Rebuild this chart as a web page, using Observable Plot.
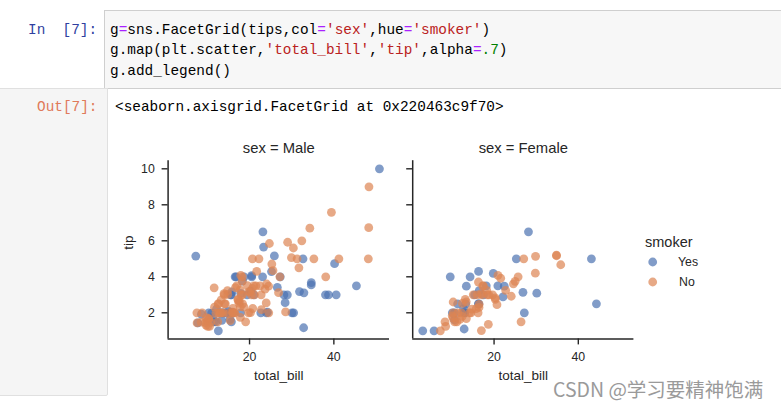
<!DOCTYPE html>
<html><head><meta charset="utf-8">
<script src="https://cdn.jsdelivr.net/npm/d3@7"></script>
<script src="https://cdn.jsdelivr.net/npm/@observablehq/plot@0.6"></script>
<style>
html,body{margin:0;padding:0;background:#fff;}
body{width:781px;height:408px;overflow:hidden;position:relative;font-family:"Liberation Sans",Arial,sans-serif;}
.abs{position:absolute;}
.mono{font-family:"Liberation Mono","DejaVu Sans Mono",monospace;font-size:14.4px;white-space:pre;line-height:20.8px;}
.op{color:#AA22FF;} .st{color:#BA2121;} .nu{color:#008000;} .tx{color:#000;}
.panel svg{overflow:visible;}
</style>
</head><body>
<div class="abs" style="left:104px;top:10px;width:700px;height:77px;background:#f7f7f7;border:1px solid #cfcfcf;"></div>
<div class="abs mono" style="left:28px;top:19.5px;color:#303F9F;">In  [7]:</div>
<div id="code" class="abs" style="left:110px;top:19.5px;"></div>
<div class="abs" style="left:-1px;top:88px;width:107px;height:306px;background:#f5f5f5;border:1px solid #e0e0e0;border-bottom-right-radius:2px;"></div>
<div class="abs mono" style="left:37px;top:97px;color:#E07A5A;">Out[7]:</div>
<div class="abs mono" style="left:115px;top:97px;color:#000;">&lt;seaborn.axisgrid.FacetGrid at 0x220463c9f70&gt;</div>
<div id="p1" class="abs panel" style="left:110px;top:130px;"></div>
<div id="p2" class="abs panel" style="left:354px;top:130px;"></div>
<div id="legend" class="abs" style="left:0;top:0;"></div>
<div class="abs" style="left:553px;top:376px;font-family:'Noto Sans CJK SC','Noto Sans',sans-serif;font-size:19.5px;line-height:25px;color:#9a9a9a;white-space:nowrap;">CSDN @学习要精神饱满</div>
<script>
// ---- data (tips dataset, as plotted) ----
const totalBill = [16.99,10.34,21.01,23.68,24.59,25.29,8.77,26.88,15.04,14.78,10.27,35.26,15.42,18.43,14.83,21.58,10.33,16.29,16.97,20.65,
17.92,20.29,15.77,39.42,19.82,17.81,13.37,12.69,21.70,19.65,9.55,18.35,15.06,20.69,17.78,24.06,16.31,16.93,18.69,31.27,
16.04,17.46,13.94,9.68,30.40,18.29,22.23,32.40,28.55,18.04,12.54,10.29,34.81,9.94,25.56,19.49,38.01,26.41,11.24,48.27,
20.29,13.81,11.02,18.29,17.59,20.08,16.45,3.07,20.23,15.01,12.02,17.07,26.86,25.28,14.73,10.51,17.92,27.20,22.76,17.29,
19.44,16.66,10.07,32.68,15.98,34.83,13.03,18.28,24.71,21.16,28.97,22.49,5.75,16.32,22.75,40.17,27.28,12.03,21.01,12.46,
11.35,15.38,44.30,22.42,20.92,15.36,20.49,25.21,18.24,14.31,14.00,7.25,38.07,23.95,25.71,17.31,29.93,10.65,12.43,24.08,
11.69,13.42,14.26,15.95,12.48,29.80,8.52,14.52,11.38,22.82,19.08,20.27,11.17,12.26,18.26,8.51,10.33,14.15,16.00,13.16,
17.47,34.30,41.19,27.05,16.43,8.35,18.64,11.87,9.78,7.51,14.07,13.13,17.26,24.55,19.77,29.85,48.17,25.00,13.39,16.49,
21.50,12.66,16.21,13.81,17.51,24.52,20.76,31.71,10.59,10.63,50.81,15.81,7.25,31.85,16.82,32.90,17.89,14.48,9.60,34.63,
34.65,23.33,45.35,23.17,40.55,20.69,20.90,30.46,18.15,23.10,15.69,19.81,28.44,15.48,16.58,7.56,10.34,43.11,13.00,13.51,
18.71,12.74,13.00,16.40,20.53,16.47,26.59,38.73,24.27,12.76,30.06,25.89,48.33,13.27,28.17,12.90,28.15,11.59,7.74,30.14,
12.16,13.42,8.58,15.98,13.42,16.27,10.09,20.45,13.28,22.12,24.01,15.69,11.61,10.77,15.53,10.07,12.60,32.83,35.83,29.03,
27.18,22.67,17.82,18.78];
const tip = [1.01,1.66,3.50,3.31,3.61,4.71,2.00,3.12,1.96,3.23,1.71,5.00,1.57,3.00,3.02,3.92,1.67,3.71,3.50,3.35,
4.08,2.75,2.23,7.58,3.18,2.34,2.00,2.00,4.30,3.00,1.45,2.50,3.00,2.45,3.27,3.60,2.00,3.07,2.31,5.00,
2.24,2.54,3.06,1.32,5.60,3.00,5.00,6.00,2.05,3.00,2.50,2.60,5.20,1.56,4.34,3.51,3.00,1.50,1.76,6.73,
3.21,2.00,1.98,3.76,2.64,3.15,2.47,1.00,2.01,2.09,1.97,3.00,3.14,5.00,2.20,1.25,3.08,4.00,3.00,2.71,
3.00,3.40,1.83,5.00,2.03,5.17,2.00,4.00,5.85,3.00,3.00,3.50,1.00,4.30,3.25,4.73,4.00,1.50,3.00,1.50,
2.50,3.00,2.50,3.48,4.08,1.64,4.06,4.29,3.76,4.00,3.00,1.00,4.00,2.55,4.00,3.50,5.07,1.50,1.80,2.92,
2.31,1.68,2.50,2.00,2.52,4.20,1.48,2.00,2.00,2.18,1.50,2.83,1.50,2.00,3.25,1.25,2.00,2.00,2.00,2.75,
3.50,6.70,5.00,5.00,2.30,1.50,1.36,1.63,1.73,2.00,2.50,2.00,2.74,2.00,2.00,5.14,5.00,3.75,2.61,2.00,
3.50,2.50,2.00,2.00,3.00,3.48,2.24,4.50,1.61,2.00,10.00,3.16,5.15,3.18,4.00,3.11,2.00,2.00,4.00,3.55,
3.68,5.65,3.50,6.50,3.00,5.00,3.50,2.00,3.50,4.00,1.50,4.19,2.56,2.02,4.00,1.44,2.00,5.00,2.00,2.00,
4.00,2.01,2.00,2.50,4.00,3.23,3.41,3.00,2.03,2.23,2.00,5.16,9.00,2.50,6.50,1.10,3.00,1.50,1.44,3.09,
2.20,3.48,1.92,3.00,1.58,2.50,2.00,3.00,2.72,2.88,2.00,3.00,3.39,1.47,3.00,1.25,1.00,1.17,4.67,5.92,
2.00,2.00,1.75,3.00];
// M = Male, F = Female
const sexCodes = ("FMMMFMMMMMFMMFMFMFMM" + "MFFMMMMMMFMMFFMMMFMM" + "MMMMMMMMMMMFFMMMMFMM" +
  "MMMMMMFFMMMFFFFMMMMM" + "MMFMMFMMMMMMFFFMMMMM" + "FFFFFMMMMFMFMMFFMFFF" +
  "MFMMFFMFFMMFFFFFFFMF" + "FMMFFFFFMMMMMMMFMFFM" + "MMFMFMMMFFMMMMMMMMFM" +
  "MMMMMMFMFMMFMMMMMFFM" + "MFFFMFMMMFMMMFFFMMMF" + "MFMFMFFMMFMMMMMMMMFM" + "FMMF").split("");
// Y = smoker Yes, N = smoker No
const smokerCodes = ("NNNNNNNNNNNNNNNNNNNN" + "NNNNNNNNNNNNNNNNNNNN" + "NNNNNNNNNNNNNNNNYNYN" +
  "YYYYNNNYNYNNYYNNYNNN" + "YNNYNNNNNNYNYYNYYYYN" + "YYYYNYYYNYNNNNNNNNNN" +
  "NNNNNNNNNNNNNNNNNNYN" + "NNNNNNNNNNNNNNNNNNNN" + "NNNNYNNNYYYYYYYYYYYY" +
  "YYYYYNYYYYYYYYYNYYYY" + "YYYYYYYYYYYYNYYYYYYY" + "YYYNYYYNNYYYNNYNYYNN" + "YYNN").split("");
const sexLevels = ["Male", "Female"];
const smokerLevels = ["Yes", "No"];
const palette = ["#4C72B0", "#DD8452"];
const xTicks = [20, 40];
const yTicks = [2, 4, 6, 8, 10];
const xLabel = "total_bill", yLabel = "tip", legendTitle = "smoker";

// ---- code cell (token, style class) ----
const codeLines = [
  [["g","tx"],["=","op"],["sns.FacetGrid(tips,col","tx"],["=","op"],["'sex'","st"],[",hue","tx"],["=","op"],["'smoker'","st"],[")","tx"]],
  [["g.map(plt.scatter,","tx"],["'total_bill'","st"],[",","tx"],["'tip'","st"],[",alpha","tx"],["=","op"],[".7","nu"],[")","tx"]],
  [["g.add_legend()","tx"]]
];
const charW = 14.4 * 0.6;
let codeHtml = "";
codeLines.forEach((line, li) => {
  let col = 0;
  line.forEach(([t, c]) => {
    codeHtml += `<span class="abs mono ${c}" style="left:${(col * charW).toFixed(2)}px;top:${(li * 20.8).toFixed(1)}px;">${t}</span>`;
    col += t.length;
  });
});
document.getElementById("code").innerHTML = codeHtml;

// ---- table ----
const sexName = {M: "Male", F: "Female"}, smokeName = {Y: "Yes", N: "No"};
const rows = totalBill.map((b, i) => ({total_bill: b, tip: tip[i], sex: sexName[sexCodes[i]], smoker: smokeName[smokerCodes[i]]}));
// seaborn draws hue levels in order (Yes first, then No on top)
rows.sort((a, b) => smokerLevels.indexOf(a.smoker) - smokerLevels.indexOf(b.smoker));

const xExt = d3.extent(totalBill), yExt = d3.extent(tip);
const xPad = (xExt[1] - xExt[0]) * 0.05, yPad = (yExt[1] - yExt[0]) * 0.05;
const xDomain = [xExt[0] - xPad, xExt[1] + xPad];
const yDomain = [yExt[0] - yPad, yExt[1] + yPad];

const ink = "#262626";
function panel(sexVal, showY, frameL, frameR, svgLeft) {
  const W = 285, H = 260, top = 130;
  const data = rows.filter(d => d.sex === sexVal);
  const marks = [
    Plot.dot(data, {x: "total_bill", y: "tip", fill: "smoker", r: 4.4, fillOpacity: 0.7}),
    Plot.ruleX([xDomain[0]], {stroke: ink, strokeWidth: 1.5}),
    Plot.ruleY([yDomain[0]], {stroke: ink, strokeWidth: 1.5}),
    Plot.axisX({ticks: xTicks, tickSize: 6, tickPadding: 7, stroke: ink, strokeWidth: 1.4, fill: ink, fontSize: 12.3, label: null}),
    Plot.axisY({ticks: yTicks, tickSize: 6, tickPadding: 7.3, stroke: ink, strokeWidth: 1.4, fill: ink, fontSize: 12.3, label: null,
      tickFormat: showY ? (d => String(d)) : (() => "")}),
    Plot.text([`sex = ${sexVal}`], {frameAnchor: "top", dy: -12, lineAnchor: "middle", fontSize: 14.8, fill: ink}),
    Plot.text([xLabel], {frameAnchor: "bottom", dy: 36.6, lineAnchor: "middle", fontSize: 13.5, fill: ink})
  ];
  if (showY) marks.push(Plot.text([yLabel], {frameAnchor: "left", dx: -39.3, rotate: -90, lineAnchor: "middle", fontSize: 13.5, fill: ink}));
  return Plot.plot({
    width: W, height: H,
    marginLeft: frameL - svgLeft, marginRight: svgLeft + W - frameR,
    marginTop: 160.2 - top, marginBottom: top + H - 338.4,
    style: {fontFamily: "'Liberation Sans', Arial, sans-serif", color: ink, background: "transparent", overflow: "visible"},
    x: {domain: xDomain},
    y: {domain: yDomain},
    color: {domain: smokerLevels, range: palette},
    marks
  });
}
document.getElementById("p1").appendChild(panel(sexLevels[0], true, 167.6, 389, 110));
document.getElementById("p2").appendChild(panel(sexLevels[1], false, 412.2, 633.4, 354));

// ---- legend ----
const lg = document.getElementById("legend");
let html = `<div class="abs" style="left:645px;top:233px;font-size:14.5px;line-height:18px;color:${ink};white-space:nowrap;">${legendTitle}</div>`;
smokerLevels.forEach((lv, i) => {
  const cy = 261.7 + i * 20;
  html += `<svg class="abs" style="left:647px;top:${cy - 6}px" width="12" height="12"><circle cx="5.7" cy="6" r="4.4" fill="${palette[i]}" fill-opacity="0.7"/></svg>`;
  html += `<div class="abs" style="left:${678 + i}px;top:${cy - 8}px;font-size:12.3px;line-height:16px;color:${ink};white-space:nowrap;">${lv}</div>`;
});
lg.innerHTML = html;
</script>
</body></html>
